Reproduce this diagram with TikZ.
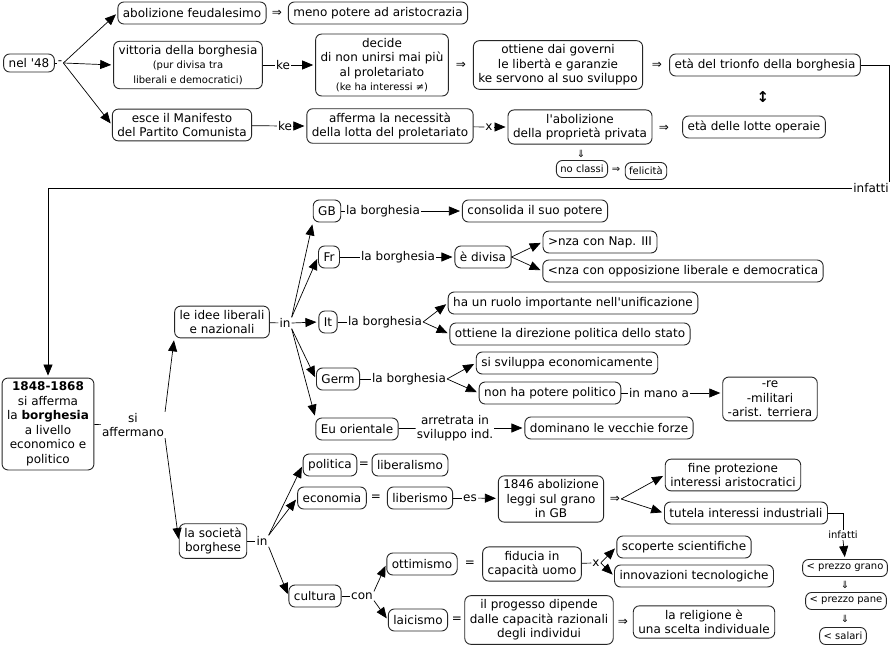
\documentclass[tikz,border=0pt]{standalone}
\usepackage{fontspec}
\setmainfont{DejaVu Sans}
\usetikzlibrary{arrows.meta}
\newcommand\smf{\fontsize{10}{11.5}\selectfont}
\newcommand\mnf{\fontsize{12}{14.5}\selectfont}
\begin{document}
\begin{tikzpicture}[x=1pt,y=-1pt,
  every node/.style={font=\mnf},
  box/.style={draw=black!85, line width=0.9pt, rounded corners=6pt, align=center,
    inner xsep=5pt, inner ysep=4pt, minimum height=22pt, fill=white},
  sbox/.style={box, font=\smf, inner xsep=4pt, inner ysep=2pt, minimum height=17pt},
  lab/.style={inner sep=1pt, align=center},
  slab/.style={lab, font=\smf},
  ln/.style={line width=0.7pt, black},
  arr/.style={ln, -{Triangle[length=11pt,width=9pt]}, shorten >=2pt},
]
\fill[white] (0,0) rectangle (895,648);
\useasboundingbox (0,0) rectangle (895,648);

% ---------- top part ----------
\node[box, inner ysep=2pt, minimum height=18pt] (n48) at (29,63) {nel \textquotesingle48};
\node[lab] (d48) at (60,63) {-};
\node[box] (abol) at (192,13) {abolizione feudalesimo};
\node[lab] (imp1) at (277,13) {⇒};
\node[box] (meno) at (378,13) {meno potere ad aristocrazia};
\node[box] (vitt) at (188,65) {vittoria della borghesia\\{\smf (pur divisa tra}\\{\smf liberali e democratici)}};
\node[lab] (ke1) at (283,65) {ke};
\node[box] (dec) at (382,65) {decide\\di non unirsi mai più\\al proletariato\\{\smf (ke ha interessi ≠)}};
\node[lab] (imp2) at (461,65) {⇒};
\node[box] (ott) at (558,65) {ottiene dai governi\\le libertà e garanzie\\ke servono al suo sviluppo};
\node[lab] (imp3) at (657,65) {⇒};
\node[box] (trionfo) at (765,65) {età del trionfo della borghesia};
\node[lab, font=\fontsize{15}{15}\selectfont\bfseries] (dbl) at (763,97) {↕};
\node[box] (esce) at (182,125) {esce il Manifesto\\del Partito Comunista};
\node[lab] (ke2) at (285,126) {ke};
\node[box] (aff) at (390,126) {afferma la necessità\\della lotta del proletariato};
\node[lab] (x1) at (489,127) {x};
\node[box] (abpp) at (580,127) {l\textquotesingle abolizione\\della proprietà privata};
\node[lab] (imp4) at (664,128) {⇒};
\node[box] (lotte) at (754,127) {età delle lotte operaie};
\node[slab] (dn1) at (581,154) {⇓};
\node[sbox] (nocl) at (582,169) {no classi};
\node[slab] (imp5) at (616,170) {⇒};
\node[sbox] (fel) at (646,171) {felicità};

\draw[ln] (n48) -- (d48);
\draw[arr] (d48.east) -- (abol.west);
\draw[arr] (d48.east) -- (vitt.west);
\draw[arr] (d48.east) -- (esce.west);
\draw[ln] (vitt) -- (ke1);
\draw[arr] (ke1) -- (dec);
\draw[ln] (esce) -- (ke2);
\draw[arr] (ke2) -- (aff);
\draw[ln] (aff) -- (x1);
\draw[arr] (x1) -- (abpp);

\node[lab] (inf1) at (871,188) {infatti};
\draw[ln] (trionfo.east) -| (inf1.north east);

% ---------- middle part ----------
\node[box] (b1848) at (48,424) {\textbf{1848-1868}\\si afferma\\la \textbf{borghesia}\\a livello\\economico e\\politico};
\draw[arr] (inf1.west) -| (b1848.north);
\node[lab] (saff) at (133,425) {si\\affermano};
\draw[ln] (b1848) -- (saff);
\node[box] (idee) at (222,322) {le idee liberali\\e nazionali};
\node[box] (soc) at (213,541) {la società\\borghese};
\draw[arr] (saff.north east) -- (idee.south west);
\draw[arr] (saff.south east) -- (soc.west);

\node[lab] (in1) at (285,323) {in};
\draw[ln] (idee) -- (in1);
\node[box] (GB) at (327,211) {GB};
\node[box] (Fr) at (329,257) {Fr};
\node[box] (It) at (328,322) {It};
\node[box] (Germ) at (338,379) {Germ};
\node[box] (Eu) at (357,429) {Eu orientale};
\draw[arr] (in1.north east) -- (GB.south west);
\draw[arr] (in1.north east) -- (Fr.west);
\draw[arr] (in1.east) -- (It.west);
\draw[arr] (in1.south east) -- (Germ.west);
\draw[arr] (in1.south east) -- (Eu.north west);

\node[lab] (lb1) at (383,211) {la borghesia};
\node[box] (cons) at (535,211) {consolida il suo potere};
\draw[ln] (GB) -- (lb1);
\draw[arr] (lb1) -- (cons);

\node[lab] (lb2) at (398,257) {la borghesia};
\node[box] (div) at (483,257) {è divisa};
\node[box] (nap) at (600,242) {>nza con Nap. III};
\node[box] (opp) at (683,271) {<nza con opposizione liberale e democratica};
\draw[ln] (Fr) -- (lb2);
\draw[arr] (lb2) -- (div);
\draw[arr] (div.east) -- (nap.west);
\draw[arr] (div.east) -- (opp.west);

\node[lab] (lb3) at (385,322) {la borghesia};
\node[box] (ruolo) at (573,303) {ha un ruolo importante nell\textquotesingle unificazione};
\node[box] (dir) at (570,334) {ottiene la direzione politica dello stato};
\draw[ln] (It) -- (lb3);
\draw[arr] (lb3.east) -- (ruolo.west);
\draw[arr] (lb3.east) -- (dir.west);

\node[lab] (lb4) at (409,379) {la borghesia};
\node[box] (svil) at (567,363) {si sviluppa economicamente};
\node[box] (nhp) at (550,393) {non ha potere politico};
\draw[ln] (Germ) -- (lb4);
\draw[arr] (lb4.east) -- (svil.west);
\draw[arr] (lb4.east) -- (nhp.west);

\node[lab] (lbm) at (659,393) {in mano a};
\node[box] (re) at (770,399) {-re\\-militari\\-arist. terriera};
\draw[ln] (nhp) -- (lbm);
\draw[arr] (lbm.east) -- (lbm.east -| re.west);

\node[lab] (arr1) at (455,428) {arretrata in\\sviluppo ind.};
\node[box] (dom) at (609,428) {dominano le vecchie forze};
\draw[ln] (Eu) -- (arr1);
\draw[arr] (arr1) -- (dom);

% ---------- bottom part ----------
\node[lab] (in2) at (262,541) {in};
\draw[ln] (soc) -- (in2);
\node[box] (pol) at (330,465) {politica};
\node[lab] (eq1) at (364,465) {=};
\node[box] (libm) at (410,465) {liberalismo};
\node[box] (eco) at (332,498) {economia};
\node[lab] (eq2) at (376,498) {=};
\node[box] (libs) at (420,498) {liberismo};
\node[box] (cul) at (315,596) {cultura};
\draw[arr] (in2.north east) -- (pol.west);
\draw[arr] (in2.north east) -- (eco.west);
\draw[arr] (in2.south east) -- (cul.west);

\node[lab] (es) at (470,498) {es};
\node[box] (leggi) at (551,499) {1846 abolizione\\leggi sul grano\\in GB};
\draw[ln] (libs) -- (es);
\draw[arr] (es) -- (leggi);
\node[lab] (imp6) at (615,499) {⇒};
\node[box] (fine) at (733,475) {fine protezione\\interessi aristocratici};
\node[box] (tut) at (746,513) {tutela interessi industriali};
\draw[arr] (imp6.east) -- (fine.west);
\draw[arr] (imp6.east) -- (tut.west);

\node[slab] (inf2) at (843,535) {infatti};
\node[sbox] (grano) at (845,568) {< prezzo grano};
\node[slab] (dn2) at (845,585) {⇓};
\node[sbox] (pane) at (846,601) {< prezzo pane};
\node[slab] (dn3) at (845,619) {⇓};
\node[sbox] (sal) at (843,636) {< salari};
\draw[ln] (tut.east) -| (inf2.north);
\draw[arr] (inf2.south) -- (grano.north);

\node[lab] (con) at (362,596) {con};
\draw[ln] (cul) -- (con);
\node[box] (otm) at (422,564) {ottimismo};
\node[box] (lai) at (418,620) {laicismo};
\draw[arr] (con.north east) -- (otm.west);
\draw[arr] (con.south east) -- (lai.west);

\node[lab] (eq3) at (470,564) {=};
\node[box] (fid) at (532,564) {fiducia in\\capacità uomo};
\node[lab] (x2) at (596,563) {x};
\draw[ln] (fid) -- (x2);
\node[box] (scop) at (684,547) {scoperte scientifiche};
\node[box] (inno) at (694,576) {innovazioni tecnologiche};
\draw[arr] (x2.east) -- (scop.west);
\draw[arr] (x2.east) -- (inno.west);

\node[lab] (eq4) at (457,620) {=};
\node[box] (prog) at (539,620) {il progesso dipende\\dalle capacità razionali\\degli individui};
\node[lab] (imp7) at (623,622) {⇒};
\node[box] (rel) at (704,622) {la religione è\\una scelta individuale};
\end{tikzpicture}
\end{document}
